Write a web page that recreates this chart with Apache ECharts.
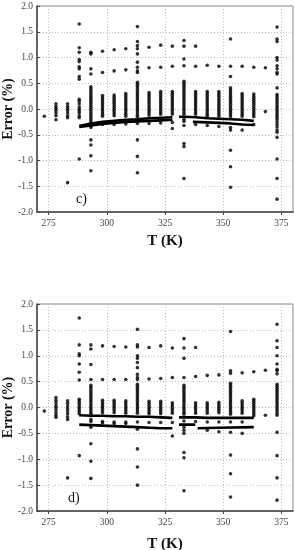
<!DOCTYPE html>
<html><head><meta charset="utf-8">
<script src="https://cdn.jsdelivr.net/npm/echarts@6/dist/echarts.min.js"></script>
<style>html,body{margin:0;padding:0;background:#fff}#c{width:294px;height:550px}</style>
</head><body><div id="c"></div>
<script>
// Temperatures (K) of the measurement columns
const tempsK = [273.15, 278.15, 283.15, 288.15, 293.15, 298.15, 303.15, 308.15, 313.15, 318.15, 323.15,
  328.15, 333.15, 338.15, 343.15, 348.15, 353.15, 358.15, 363.15, 368.15, 373.15];
const xTickLabels = [275, 300, 325, 350, 375];

// Panel c) errors (%) per temperature column
const errC = [
  [-0.14],
  [0.10, 0.05, 0.01, -0.03, -0.08, -0.13, -0.21],
  [0.10, 0.05, 0.01, -0.03, -0.08, -0.13, -0.17, -1.43],
  [1.65, 1.19, 1.10, 0.96, 0.92, 0.82, 0.78, 0.63, 0.58, 0.19, 0.15, 0.10, 0.04, 0.00, -0.04, -0.08, -0.13, -0.17, -0.97],
  [1.10, 1.07, 0.78, 0.68, 0.43, 0.39, 0.35, 0.31, 0.27, 0.23, 0.19, 0.15, 0.11, 0.07, 0.03, -0.01, -0.05, -0.09, -0.13, -0.17, -0.21, -0.25, -0.29, -0.33, -0.36, -0.60, -0.70, -0.91, -1.20],
  [1.12, 0.71, 0.26, 0.22, 0.18, 0.14, 0.10, 0.06, 0.02, -0.02, -0.06, -0.10, -0.14, -0.30],
  [1.15, 0.74, 0.27, 0.23, 0.19, 0.15, 0.11, 0.07, 0.03, -0.01, -0.05, -0.09, -0.13, -0.30],
  [1.17, 0.76, 0.30, 0.26, 0.22, 0.18, 0.14, 0.10, 0.06, 0.02, -0.02, -0.06, -0.10, -0.14, -0.29],
  [1.60, 1.31, 1.23, 1.17, 1.07, 0.91, 0.81, 0.74, 0.71, 0.52, 0.48, 0.44, 0.40, 0.36, 0.32, 0.28, 0.24, 0.20, 0.16, 0.12, 0.08, 0.04, 0.00, -0.04, -0.08, -0.12, -0.16, -0.28, -0.60, -0.92, -1.24],
  [1.20, 0.80, 0.32, 0.28, 0.24, 0.20, 0.16, 0.12, 0.08, 0.04, 0.00, -0.04, -0.08, -0.12, -0.28],
  [1.24, 0.81, 0.34, 0.30, 0.26, 0.22, 0.18, 0.14, 0.10, 0.06, 0.02, -0.02, -0.06, -0.10, -0.27],
  [1.22, 0.83, 0.34, 0.30, 0.26, 0.22, 0.18, 0.14, 0.10, 0.06, 0.02, -0.02, -0.06, -0.10, -0.26, -0.38],
  [1.33, 1.22, 0.97, 0.84, 0.54, 0.50, 0.46, 0.42, 0.38, 0.34, 0.30, 0.26, 0.22, 0.18, 0.14, 0.10, 0.06, 0.02, -0.02, -0.06, -0.10, -0.20, -0.24, -0.32, -0.67, -0.73, -1.35],
  [1.22, 0.83, 0.34, 0.30, 0.26, 0.22, 0.18, 0.14, 0.10, 0.06, 0.02, -0.02, -0.06, -0.10, -0.30],
  [0.85, 0.34, 0.30, 0.26, 0.22, 0.18, 0.14, 0.10, 0.06, 0.02, -0.02, -0.06, -0.10, -0.14, -0.32],
  [0.83, 0.34, 0.30, 0.26, 0.22, 0.18, 0.14, 0.10, 0.06, 0.02, -0.02, -0.06, -0.10, -0.14, -0.34],
  [1.36, 0.83, 0.63, 0.41, 0.37, 0.33, 0.29, 0.25, 0.21, 0.17, 0.13, 0.09, 0.05, 0.01, -0.03, -0.07, -0.11, -0.15, -0.36, -0.41, -0.80, -1.12, -1.52],
  [0.83, 0.30, 0.26, 0.22, 0.18, 0.14, 0.10, 0.06, 0.02, -0.02, -0.06, -0.10, -0.14, -0.41],
  [0.81, 0.29, 0.25, 0.21, 0.17, 0.13, 0.09, 0.05, 0.01, -0.03, -0.07, -0.11, -0.15, -0.30],
  [0.80, -0.05],
  [1.59, 1.36, 1.31, 1.00, 0.95, 0.84, 0.78, 0.71, 0.68, 0.41, 0.28, 0.24, 0.20, 0.16, 0.12, 0.08, 0.04, 0.00, -0.04, -0.08, -0.12, -0.16, -0.20, -0.25, -0.30, -0.35, -0.41, -0.45, -0.55, -0.97, -1.35, -1.75]
];

// Panel d) errors (%) per temperature column
const errD = [
  [-0.07],
  [0.19, 0.14, 0.09, 0.04, 0.00, -0.05, -0.10, -0.15, -0.19],
  [0.13, 0.08, 0.03, -0.02, -0.07, -0.12, -0.18, -0.23, -1.36],
  [1.73, 1.21, 1.04, 1.00, 0.84, 0.68, 0.53, 0.16, 0.12, 0.08, 0.04, 0.00, -0.04, -0.08, -0.12, -0.93],
  [1.21, 1.13, 0.83, 0.54, 0.43, 0.39, 0.35, 0.31, 0.27, 0.23, 0.19, 0.15, 0.11, 0.07, 0.03, -0.01, -0.05, -0.09, -0.13, -0.23, -0.27, -0.38, -0.70, -1.04, -1.37],
  [1.19, 0.54, 0.14, 0.10, 0.06, 0.02, -0.02, -0.06, -0.10, -0.27, -0.30],
  [1.18, 0.54, 0.14, 0.10, 0.06, 0.02, -0.02, -0.06, -0.10, -0.28, -0.31],
  [1.17, 0.54, 0.13, 0.09, 0.05, 0.01, -0.03, -0.07, -0.11, -0.28, -0.31],
  [1.51, 1.21, 1.17, 1.00, 0.95, 0.87, 0.77, 0.64, 0.58, 0.54, 0.45, 0.41, 0.37, 0.33, 0.29, 0.25, 0.21, 0.17, 0.13, 0.09, 0.05, 0.01, -0.03, -0.07, -0.11, -0.28, -0.42, -0.80, -1.15, -1.50],
  [1.16, 0.55, 0.12, 0.08, 0.04, 0.00, -0.04, -0.08, -0.12, -0.29],
  [1.19, 0.56, 0.12, 0.08, 0.04, 0.00, -0.04, -0.08, -0.12, -0.29],
  [1.15, 0.58, 0.09, 0.05, 0.01, -0.03, -0.07, -0.11, -0.29, -0.55],
  [1.33, 1.15, 0.95, 0.58, 0.43, 0.39, 0.35, 0.31, 0.27, 0.23, 0.19, 0.15, 0.11, 0.07, 0.03, -0.01, -0.05, -0.09, -0.13, -0.26, -0.38, -0.44, -0.50, -0.87, -0.97, -1.61],
  [1.16, 0.60, 0.09, 0.05, 0.01, -0.03, -0.07, -0.11, -0.27],
  [0.62, 0.09, 0.05, 0.01, -0.03, -0.07, -0.11, -0.28, -0.44],
  [0.63, 0.10, 0.06, 0.02, -0.02, -0.06, -0.10, -0.28, -0.47],
  [1.47, 0.71, 0.66, 0.47, 0.43, 0.39, 0.35, 0.31, 0.27, 0.23, 0.19, 0.15, 0.11, 0.07, 0.03, -0.01, -0.05, -0.09, -0.13, -0.28, -0.48, -0.92, -1.28, -1.73],
  [0.67, 0.13, 0.09, 0.05, 0.01, -0.03, -0.07, -0.11, -0.28, -0.50],
  [0.69, 0.16, 0.12, 0.08, 0.04, 0.00, -0.04, -0.08, -0.12, -0.16],
  [0.72, -0.15],
  [1.61, 1.29, 1.16, 1.00, 0.84, 0.74, 0.71, 0.65, 0.45, 0.41, 0.37, 0.33, 0.29, 0.25, 0.21, 0.17, 0.13, 0.09, 0.05, 0.01, -0.03, -0.07, -0.11, -0.15, -0.48, -0.93, -1.36, -1.79]
];

// Dense (continuous) error curves
const seg1T = [288.15, 293.15, 298.15, 303.15, 308.15, 313.15, 318.15, 323.15, 328.15];
const seg2T = [331.0, 333.15, 338.15, 343.15, 348.15, 353.15, 358.15, 363.15];
const cSeg1Upper = [-0.33, -0.28, -0.25, -0.23, -0.21, -0.20, -0.18, -0.17, -0.16];
const cSeg1Lower = [-0.35, -0.32, -0.29, -0.27, -0.25, -0.24, -0.23, -0.22, -0.21];
const cSeg2Upper = [-0.15, -0.15, -0.16, -0.18, -0.19, -0.20, -0.21, -0.23];
const cSeg2LowerT = [337.0, 343.15, 348.15, 353.15, 358.15, 363.15];
const cSeg2Lower = [-0.25, -0.26, -0.27, -0.28, -0.30, -0.31];
const dSeg1Upper = [-0.15, -0.16, -0.16, -0.17, -0.17, -0.18, -0.18, -0.19, -0.20];
const dSeg1Lower = [-0.33, -0.34, -0.35, -0.36, -0.37, -0.38, -0.39, -0.40, -0.40];
const dSeg2Upper = [-0.19, -0.19, -0.19, -0.20, -0.20, -0.20, -0.20, -0.20];
const dSeg2LowerAT = [331.0, 338.0];
const dSeg2LowerA = [-0.33, -0.33];
const dSeg2LowerBT = [339.0, 348.15, 363.15];
const dSeg2LowerB = [-0.40, -0.39, -0.38];

function pts(temps, cols) {
  const out = [];
  temps.forEach((t, i) => cols[i].forEach(v => out.push([t, v])));
  return out;
}
function pairs(ts, vs) { return ts.map((t, i) => [t, vs[i]]); }

const serif = 'Liberation Serif';
function xAx(idx, gap) {
  return {
    gridIndex: idx, type: 'value', min: 270, max: 380,
    name: 'T (K)', nameLocation: 'middle', nameGap: gap, nameMoveOverlap: false,
    nameTextStyle: { fontFamily: serif, fontWeight: 'bold', fontSize: 15, color: '#111' },
    axisLine: { show: true, onZero: false, lineStyle: { color: '#444', width: 1.5 } },
    axisTick: { show: true, length: 3, customValues: xTickLabels, lineStyle: { color: '#444' } },
    axisLabel: { customValues: xTickLabels, fontFamily: serif, fontSize: 9.5, color: '#444', margin: 6 },
    splitLine: { show: true, lineStyle: { type: [1, 2], color: '#bbb', width: 1 } }
  };
}
function yAx(idx) {
  return {
    gridIndex: idx, type: 'value', min: -2, max: 2, interval: 0.5,
    name: 'Error (%)', nameLocation: 'middle', nameGap: 22, nameMoveOverlap: false,
    nameTextStyle: { fontFamily: serif, fontWeight: 'bold', fontSize: 14, color: '#111' },
    axisLine: { show: true, onZero: false, lineStyle: { color: '#444', width: 1.5 } },
    axisTick: { show: true, length: 3, inside: true, lineStyle: { color: '#444' } },
    axisLabel: { formatter: v => v.toFixed(1), fontFamily: serif, fontSize: 9.5, color: '#444', margin: 4 },
    splitLine: { show: true, lineStyle: { type: [1, 2], color: '#bbb', width: 1 } }
  };
}
function scat(idx, data) {
  return { type: 'scatter', xAxisIndex: idx, yAxisIndex: idx, data, symbolSize: 3.6,
    itemStyle: { color: '#000' }, silent: true, animation: false };
}
function line(idx, data) {
  return { type: 'line', xAxisIndex: idx, yAxisIndex: idx, data, showSymbol: false, symbol: 'none',
    lineStyle: { color: '#000', width: 2.6 }, silent: true, animation: false, z: 3 };
}

const chart = echarts.init(document.getElementById('c'), null, { renderer: 'canvas' });
chart.setOption({
  animation: false,
  backgroundColor: '#fff',
  grid: [
    { left: 37, top: 6, width: 256, height: 206, show: true, borderColor: '#888', borderWidth: 1, containLabel: false, outerBoundsMode: 'none' },
    { left: 37, top: 304, width: 256, height: 207, show: true, borderColor: '#888', borderWidth: 1, containLabel: false, outerBoundsMode: 'none' }
  ],
  xAxis: [xAx(0, 22), xAx(1, 26)],
  yAxis: [yAx(0), yAx(1)],
  series: [
    scat(0, pts(tempsK, errC)),
    line(0, pairs(seg1T, cSeg1Upper)),
    line(0, pairs(seg1T, cSeg1Lower)),
    line(0, pairs(seg2T, cSeg2Upper)),
    line(0, pairs(cSeg2LowerT, cSeg2Lower)),
    scat(1, pts(tempsK, errD)),
    line(1, pairs(seg1T, dSeg1Upper)),
    line(1, pairs(seg1T, dSeg1Lower)),
    line(1, pairs(seg2T, dSeg2Upper)),
    line(1, pairs(dSeg2LowerAT, dSeg2LowerA)),
    line(1, pairs(dSeg2LowerBT, dSeg2LowerB))
  ],
  graphic: [
    { type: 'text', left: 76, top: 192, style: { text: 'c)', font: '14px "Liberation Serif"', fill: '#111' } },
    { type: 'text', left: 68, top: 491, style: { text: 'd)', font: '14px "Liberation Serif"', fill: '#111' } }
  ]
});
</script>
</body></html>
